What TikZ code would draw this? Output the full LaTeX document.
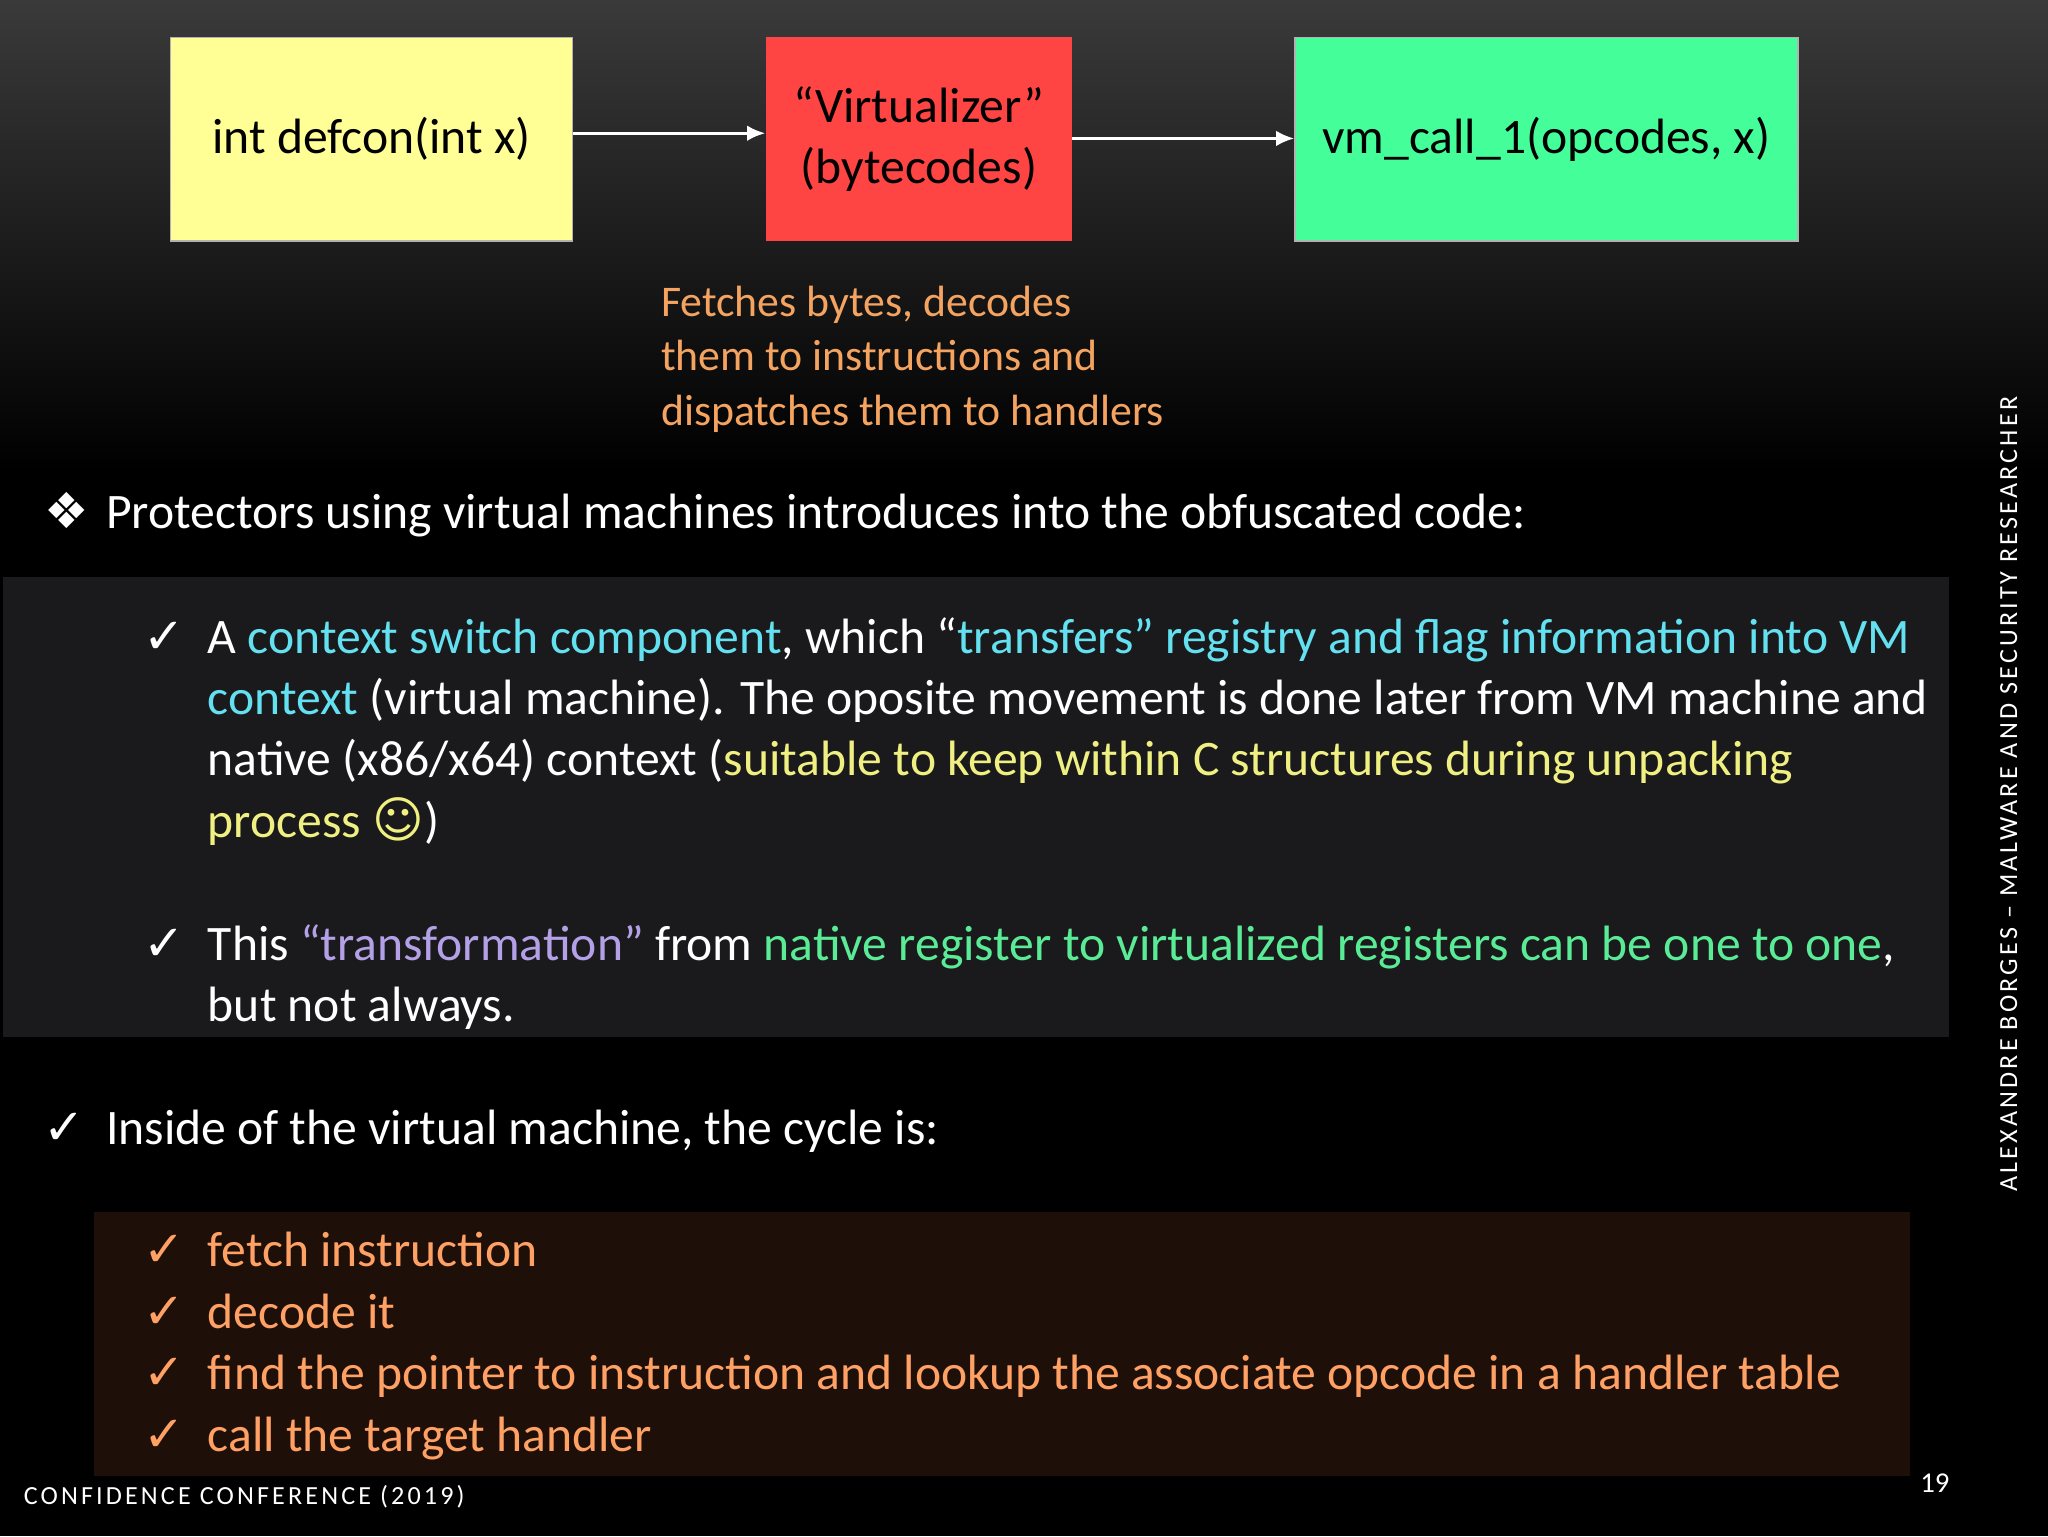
\documentclass[tikz,border=0pt]{standalone}
\usepackage{fontspec}
\setmainfont{Carlito}
\newfontfamily\djv{DejaVu Sans}
\usetikzlibrary{arrows.meta}
\definecolor{bgtop}{RGB}{58,58,58}
\definecolor{ylw}{RGB}{255,255,150}
\definecolor{rd}{RGB}{255,68,68}
\definecolor{grn}{RGB}{68,255,153}
\definecolor{org}{RGB}{244,164,96}
\definecolor{org2}{RGB}{255,160,100}
\definecolor{cyn}{RGB}{100,225,240}
\definecolor{tylw}{RGB}{240,240,130}
\definecolor{prp}{RGB}{180,160,230}
\definecolor{tgrn}{RGB}{90,235,150}
\definecolor{panel}{RGB}{26,26,28}
\definecolor{brn}{RGB}{30,16,8}
\newcommand{\ck}{{\djv\char"2713}}
\begin{document}
\begin{tikzpicture}[x=1pt,y=-1pt,
  box/.style={draw=gray!60,line width=1pt,minimum height=156pt,font=\fontsize{38}{46}\selectfont,text=black,align=center,inner sep=0pt},
  arr/.style={white,line width=2.5pt,-{Latex[length=14pt,width=12pt]}},
  txt/.style={anchor=base west,inner sep=0pt,font=\fontsize{38}{47}\selectfont,text=white},
  note/.style={anchor=base west,inner sep=0pt,text=org,font=\fontsize{33.5}{42}\selectfont}]
\useasboundingbox (0,0) rectangle (1568,1176);
\shade[top color=bgtop,bottom color=black] (0,0) rectangle (1568,360);
\fill[black] (0,360) rectangle (1568,1176);
\node[box,fill=ylw,minimum width=308pt,anchor=north west] (a) at (130,28) {int defcon(int x)};
\node[box,fill=rd,draw=none,minimum width=234pt,anchor=north west] (b) at (586,28) {“Virtualizer”\\(bytecodes)};
\node[box,fill=grn,minimum width=385pt,anchor=north west] (c) at (991,28) {vm\_call\_1(opcodes, x)};
\draw[arr] (a.east |- 0,102) -- (b.west |- 0,102);
\draw[arr] (b.east |- 0,106) -- (c.west |- 0,106);
\node[note] (d1) at (506,242) {Fetches bytes, decodes};
\node[note] (d2) at (506,284) {them to instructions and};
\node[note] (d3) at (506,326) {dispatches them to handlers};
\node[txt] (b1) at (34,405) {{\djv\char"2756}};
\node[txt] (p1) at (81,405) {Protectors using virtual machines introduces into the obfuscated code:};
\fill[panel] (2,442) rectangle (1492,794);
\node[txt] (c1) at (110,500) {\ck};
\node[txt] (t1a) at (159,500) {A \textcolor{cyn}{context switch component}, which “\textcolor{cyn}{transfers” registry and flag information into VM}};
\node[txt] (t1b) at (159,547) {\textcolor{cyn}{context} (virtual machine). The oposite movement is done later from VM machine and};
\node[txt] (t1c) at (159,594) {native (x86/x64) context (\textcolor{tylw}{suitable to keep within C structures during unpacking}};
\node[txt] (t1d) at (159,641) {\textcolor{tylw}{process {\djv\char"263A}})};
\node[txt] (c2) at (110,735) {\ck};
\node[txt] (t2a) at (159,735) {This \textcolor{prp}{“transformation”} from \textcolor{tgrn}{native register to virtualized registers can be one to one},};
\node[txt] (t2b) at (159,782) {but not always.};
\node[txt] (c3) at (33,876) {\ck};
\node[txt] (p2) at (81,876) {Inside of the virtual machine, the cycle is:};
\fill[brn] (72,928) rectangle (1462,1130);
\foreach \i/\s in {0/fetch instruction,1/decode it,2/find the pointer to instruction and lookup the associate opcode in a handler table,3/call the target handler}{
  \node[txt,text=org2] (k\i) at (110,970+47*\i) {\ck};
  \node[txt,text=org2] (l\i) at (159,970+47*\i) {\s};
}
\node[anchor=base west,inner sep=0pt,text=white,font=\fontsize{20}{20}\selectfont] (f) at (18,1152) {\addfontfeature{LetterSpace=12}CONFIDENCE CONFERENCE (2019)};
\node[anchor=base west,inner sep=0pt,text=white,font=\fontsize{22}{22}\selectfont] (n) at (1470,1143) {19};
\node[rotate=90,inner sep=0pt,text=white,font=\fontsize{20}{20}\selectfont] (v) at (1538,608) {\addfontfeature{LetterSpace=12}ALEXANDRE BORGES – MALWARE AND SECURITY RESEARCHER};
\end{tikzpicture}
\end{document}
